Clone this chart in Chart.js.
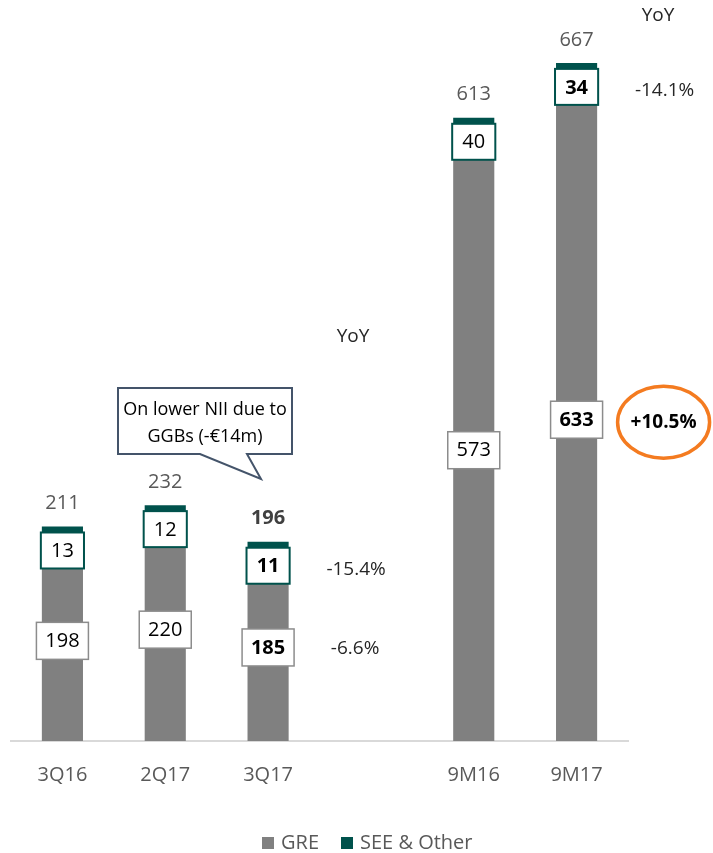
<!DOCTYPE html>
<html>
<head>
<meta charset="utf-8">
<script src="https://cdn.jsdelivr.net/npm/chart.js@4"></script>
<style>
  html, body { margin: 0; padding: 0; background: #fff; }
  #wrap { width: 713px; height: 853px; position: relative; }
</style>
</head>
<body>
<div id="wrap"><canvas id="niiChart"></canvas></div>
<script>
const categories = ['3Q16', '2Q17', '3Q17', '', '9M16', '9M17'];
const greValues = [198, 220, 185, null, 573, 633];
const seeValues = [13, 12, 11, null, 40, 34];
const totalValues = [211, 232, 196, null, 613, 667];
const seeYoY = [null, null, '-15.4%', null, null, '-14.1%'];
const greYoY = [null, null, '-6.6%', null, null, '+10.5%'];
const boldBars = ['3Q17', '9M17'];
const calloutLines = ['On lower NII due to', 'GGBs (-€14m)'];

const FONT = "'Open Sans', 'Noto Sans', sans-serif";
const GREY = '#808080';
const TEAL = '#00524c';

function box(ctx, x, y, w, h, stroke, lw) {
  ctx.fillStyle = '#fff';
  ctx.fillRect(x, y, w, h);
  ctx.strokeStyle = stroke;
  ctx.lineWidth = lw;
  ctx.strokeRect(x, y, w, h);
}

const labelsPlugin = {
  id: 'labels',
  afterDatasetsDraw(chart) {
    const ctx = chart.ctx;
    const gre = chart.getDatasetMeta(0).data;
    const see = chart.getDatasetMeta(1).data;
    ctx.save();
    ctx.textAlign = 'center';
    ctx.textBaseline = 'middle';

    categories.forEach((cat, i) => {
      if (greValues[i] == null) return;
      const bold = boldBars.includes(cat);
      const weight = bold ? 'bold ' : '';
      const g = gre[i], s = see[i];

      // GRE box in the middle of the grey part
      const gMid = (g.y + g.base) / 2;
      box(ctx, g.x - 26, gMid - 18, 52, 37, '#8c8c8c', 1.5);
      ctx.fillStyle = '#000';
      ctx.font = weight + '20px ' + FONT;
      ctx.fillText(greValues[i], g.x, gMid + 1);

      // SEE box just under the top of the teal part
      const bw = s.width + 2;
      const sTop = s.y + 6;
      box(ctx, s.x - bw / 2, sTop, bw, 36, TEAL, 2);
      ctx.fillStyle = '#000';
      ctx.fillText(seeValues[i], s.x, sTop + 19);

      // total above the bar
      ctx.fillStyle = cat === '3Q17' ? '#404040' : '#595959';
      ctx.font = (cat === '3Q17' ? 'bold ' : '') + '20px ' + FONT;
      ctx.fillText(totalValues[i], s.x, s.y - 23);

      // YoY numbers
      ctx.font = '19px ' + FONT;
      ctx.fillStyle = '#262626';
      if (seeYoY[i]) ctx.fillText(seeYoY[i], s.x + 88, sTop + 22);
      if (greYoY[i]) {
        if (greYoY[i].startsWith('+')) {
          const ex = g.x + 87, ey = gMid + 3;
          ctx.strokeStyle = '#f47b20';
          ctx.lineWidth = 3.5;
          ctx.beginPath();
          ctx.ellipse(ex, ey, 46, 36, 0, 0, Math.PI * 2);
          ctx.stroke();
          ctx.font = 'bold 19px ' + FONT;
          ctx.fillStyle = '#000';
          ctx.fillText(greYoY[i], ex, ey);
        } else {
          ctx.fillText(greYoY[i], s.x + 87, gMid + 2);
        }
      }
    });

    // YoY headers
    ctx.font = '19px ' + FONT;
    ctx.fillStyle = '#262626';
    ctx.fillText('YoY', 353, 337);
    ctx.fillText('YoY', 658, 16);

    // callout
    ctx.strokeStyle = '#44546a';
    ctx.lineWidth = 2;
    ctx.fillStyle = '#fff';
    ctx.beginPath();
    ctx.moveTo(118, 388);
    ctx.lineTo(292, 388);
    ctx.lineTo(292, 454);
    ctx.lineTo(247, 454);
    ctx.lineTo(261, 479);
    ctx.lineTo(200, 454);
    ctx.lineTo(118, 454);
    ctx.closePath();
    ctx.fill();
    ctx.stroke();
    ctx.fillStyle = '#000';
    ctx.font = '18px ' + FONT;
    ctx.fillText(calloutLines[0], 205, 410);
    ctx.fillText(calloutLines[1], 205, 437);

    // legend
    const items = chart.data.datasets;
    ctx.font = '20px ' + FONT;
    ctx.textAlign = 'left';
    let x = 262;
    items.forEach(ds => {
      ctx.fillStyle = ds.backgroundColor;
      ctx.fillRect(x, 837, 12, 12);
      ctx.fillStyle = '#595959';
      ctx.fillText(ds.label, x + 19, 843);
      x += 19 + ctx.measureText(ds.label).width + 22;
    });

    ctx.restore();
  }
};

new Chart(document.getElementById('niiChart'), {
  type: 'bar',
  data: {
    labels: categories,
    datasets: [
      { label: 'GRE', data: greValues, backgroundColor: GREY, barPercentage: 0.4, categoryPercentage: 1 },
      { label: 'SEE & Other', data: seeValues, backgroundColor: TEAL, barPercentage: 0.4, categoryPercentage: 1 }
    ]
  },
  options: {
    responsive: true,
    maintainAspectRatio: false,
    animation: false,
    layout: { padding: { left: 11, right: 85, top: 9, bottom: 0 } },
    plugins: {
      legend: { display: false },
      tooltip: { enabled: false }
    },
    scales: {
      x: {
        stacked: true,
        grid: { display: false },
        border: { color: '#d9d9d9', width: 2 },
        ticks: { color: '#595959', padding: 14, font: { family: FONT, size: 20 } },
        afterFit(scale) { scale.height = 112; }
      },
      y: {
        stacked: true,
        display: false,
        min: 0,
        max: 720
      }
    }
  },
  plugins: [labelsPlugin]
});
</script>
</body>
</html>
